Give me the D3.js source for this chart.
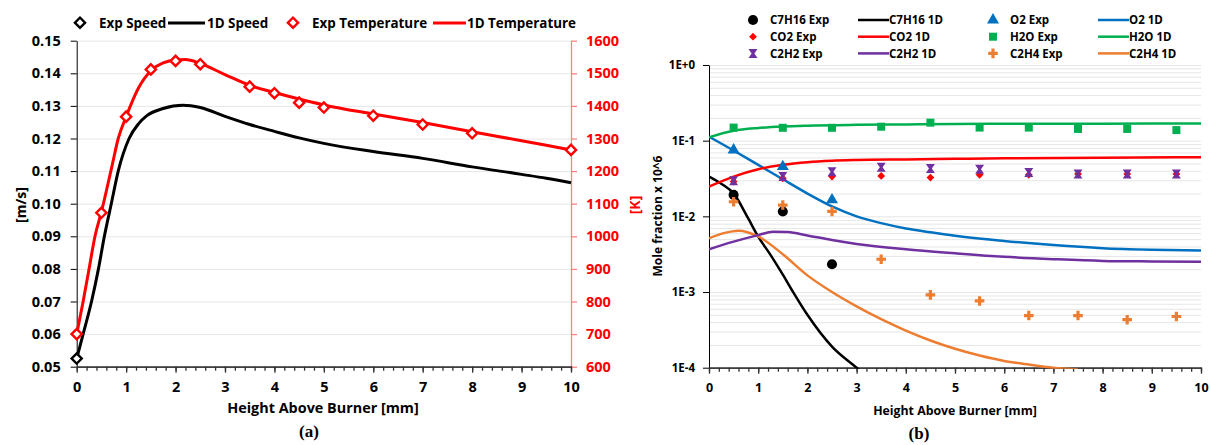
<!DOCTYPE html>
<html lang="en">
<head>
  <meta charset="UTF-8">
  <title>Speed, temperature and mole fractions</title>
  <script src="https://d3js.org/d3.v7.min.js"></script>
  <style>
    body { margin: 0; background: #fff; }
    svg text { font-family: "Open Sans", Lato, sans-serif; font-weight: bold; }
    .grid line { stroke: #e6e6e6; }
    .grid .domain { stroke: none; }
  </style>
</head>
<body>
<svg id="chart" width="1210" height="445"></svg>
<script>
  // ---- (a) speed / temperature ----
  const speedExpX = [0];
  const speedExp  = [0.0525];
  const speed1dX = [0, 0.13, 0.3, 0.44, 0.56, 0.7, 0.84, 1.06, 1.25, 1.42, 1.75, 2.15, 2.5, 3, 3.5, 4, 4.5, 5, 6, 7, 8, 9, 9.5, 10];
  const speed1d  = [0.0525, 0.06, 0.07, 0.08, 0.09, 0.1, 0.11, 0.12, 0.1245, 0.127, 0.1292, 0.1302, 0.1295, 0.1268, 0.1243, 0.1222, 0.1202, 0.1185, 0.116, 0.1139, 0.1113, 0.109, 0.1078, 0.1064];
  const tempExpX = [0, 0.5, 1, 1.5, 2, 2.5, 3.5, 4, 4.5, 5, 6, 7, 8, 10];
  const tempExp  = [700, 1072, 1367, 1512, 1538, 1528, 1459, 1439, 1410, 1395, 1370, 1343, 1316, 1265];
  const temp1dX = [0, 0.13, 0.25, 0.37, 0.5, 0.71, 0.84, 1, 1.25, 1.5, 1.75, 2, 2.2, 2.5, 3, 3.5, 4, 4.5, 5, 6, 7, 8, 9, 10];
  const temp1d  = [700, 800, 900, 1000, 1075, 1213, 1300, 1367, 1455, 1508, 1532, 1541, 1542, 1530, 1496, 1463, 1441, 1421, 1403, 1375, 1349, 1321, 1293, 1265];
  const speedTicks = [0.05, 0.06, 0.07, 0.08, 0.09, 0.10, 0.11, 0.12, 0.13, 0.14, 0.15];
  const tempTicks = [600, 700, 800, 900, 1000, 1100, 1200, 1300, 1400, 1500, 1600];
  const xTicks = [0, 1, 2, 3, 4, 5, 6, 7, 8, 9, 10];

  // ---- (b) mole fractions ----
  const expX = [0.5, 1.5, 2.5, 3.5, 4.5, 5.5, 6.5, 7.5, 8.5, 9.5];
  const c7h16Exp = [0.0192, 0.0116, 0.00233];
  const o2Exp    = [0.0753, 0.0454, 0.0165];
  const co2Exp   = [0.0288, 0.0318, 0.0335, 0.0342, 0.0325, 0.0354, 0.0354, 0.0363, 0.0363, 0.0363];
  const h2oExp   = [0.149, 0.148, 0.148, 0.153, 0.173, 0.149, 0.149, 0.143, 0.143, 0.138];
  const c2h2Exp  = [0.0295, 0.0335, 0.0388, 0.0444, 0.043, 0.0418, 0.038, 0.0363, 0.0363, 0.0363];
  const c2h4Exp  = [0.0156, 0.0141, 0.0116, 0.00271, 0.000916, 0.000762, 0.000489, 0.000489, 0.000431, 0.000475];

  const c7h16X = [0, 0.25, 0.5, 0.8, 1, 1.25, 1.5, 1.71, 2, 2.5, 3, 3.2];
  const c7h16  = [0.0335, 0.027, 0.0201, 0.0093, 0.0054, 0.0031, 0.0017, 0.001, 0.0005, 0.00019, 0.0001, 0.000078];
  const o2X = [0, 0.5, 1, 1.5, 2, 2.5, 3, 3.5, 4, 4.5, 5, 6, 7, 8, 9, 10];
  const o2  = [0.113, 0.0741, 0.0479, 0.0309, 0.02, 0.0135, 0.01, 0.00813, 0.00692, 0.00617, 0.00556, 0.00473, 0.00417, 0.0038, 0.00363, 0.00355];
  const co2X = [0, 0.5, 1, 1.5, 2, 2.5, 3, 4, 5, 6, 8, 10];
  const co2  = [0.0247, 0.0335, 0.042, 0.048, 0.052, 0.0543, 0.0555, 0.0565, 0.0575, 0.0585, 0.0597, 0.0604];
  const h2oX = [0, 0.5, 1, 1.5, 2, 3, 4, 5, 6, 8, 10];
  const h2o  = [0.111, 0.135, 0.147, 0.154, 0.158, 0.162, 0.164, 0.166, 0.167, 0.168, 0.169];
  const c2h2X = [0, 0.5, 1, 1.3, 1.6, 2, 2.5, 3, 4, 5, 6, 7, 8, 9, 10];
  const c2h2  = [0.00367, 0.00463, 0.00565, 0.00628, 0.0062, 0.0056, 0.00487, 0.00432, 0.00367, 0.00325, 0.00292, 0.00272, 0.00258, 0.00254, 0.00252];
  const c2h4X = [0, 0.3, 0.6, 1, 1.5, 2, 2.5, 3, 3.5, 4, 4.5, 5, 5.5, 6, 6.5, 7, 7.5];
  const c2h4  = [0.00513, 0.006, 0.00647, 0.00542, 0.00316, 0.00166, 0.001, 0.000646, 0.000437, 0.000309, 0.000229, 0.000178, 0.000145, 0.000123, 0.00011, 0.0001, 0.000095];
  const logTicks = [1, 0.1, 0.01, 0.001, 0.0001];
  const logTickLabels = ["1E+0", "1E-1", "1E-2", "1E-3", "1E-4"];

  const svg = d3.select("#chart");
  const zip = (xs, ys) => xs.map((x, i) => [x, ys[i]]);
  const fsA = "14px", fsLeg = "13.4px", fsB = "11.5px";

  // ================= panel (a) =================
  const xL = d3.scaleLinear().domain([0, 10]).range([76.7, 571]);
  const yS = d3.scaleLinear().domain([0.05, 0.15]).range([366.7, 40.7]);
  const yT = d3.scaleLinear().domain([600, 1600]).range([366.7, 40.7]);
  const gA = svg.append("g");

  gA.append("g").attr("class", "grid")
    .attr("transform", `translate(${xL(0)},0)`)
    .call(d3.axisLeft(yS).tickValues(speedTicks.slice(1)).tickFormat("").tickSize(-(xL(10) - xL(0))));

  const leftAx = gA.append("g").attr("transform", `translate(${xL(0)},0)`)
    .call(d3.axisLeft(yS).tickValues(speedTicks).tickFormat(d3.format(".2f")).tickSize(6).tickSizeOuter(0).tickPadding(10));
  leftAx.selectAll("text").style("font-size", "14.5px").attr("fill", "#000");
  leftAx.selectAll("line, path").attr("stroke", "#000");

  const rightAx = gA.append("g").attr("transform", `translate(${xL(10)},0)`)
    .call(d3.axisRight(yT).tickValues(tempTicks).tickFormat(d3.format("d")).tickSize(6).tickSizeOuter(0).tickPadding(9));
  rightAx.selectAll("text").style("font-size", "14.5px").attr("fill", "#ff0000");
  rightAx.selectAll("line, path").attr("stroke", "#ff8080").attr("stroke-width", 1.3);

  const botA = gA.append("g").attr("transform", `translate(0,${yS(0.05)})`);
  botA.call(d3.axisBottom(xL).tickValues(d3.range(0, 10.01, 0.2)).tickFormat("").tickSize(4).tickSizeOuter(0));
  botA.append("g").call(d3.axisBottom(xL).tickValues(xTicks).tickSize(6).tickSizeOuter(0).tickPadding(9))
    .selectAll("text").style("font-size", "14.5px").attr("fill", "#000");
  botA.selectAll("line, path").attr("stroke", "#333").attr("stroke-width", 1.3);

  const lineA = (ys) => d3.line().x(d => xL(d[0])).y(d => ys(d[1])).curve(d3.curveMonotoneX);
  gA.append("path").datum(zip(speed1dX, speed1d)).attr("d", lineA(yS))
    .attr("fill", "none").attr("stroke", "#000").attr("stroke-width", 3);
  gA.append("path").datum(zip(temp1dX, temp1d)).attr("d", lineA(yT))
    .attr("fill", "none").attr("stroke", "#ff0000").attr("stroke-width", 3);

  const diamond = d3.symbol().type(d3.symbolSquare).size(52)();
  gA.selectAll(".tExp").data(zip(tempExpX, tempExp)).join("path")
    .attr("d", diamond)
    .attr("transform", d => `translate(${xL(d[0])},${yT(d[1])}) rotate(45)`)
    .attr("fill", "#fff").attr("stroke", "#ff0000").attr("stroke-width", 2.4);
  gA.selectAll(".sExp").data(zip(speedExpX, speedExp)).join("path")
    .attr("d", diamond)
    .attr("transform", d => `translate(${xL(d[0])},${yS(d[1])}) rotate(45)`)
    .attr("fill", "#fff").attr("stroke", "#000").attr("stroke-width", 2.4);

  gA.append("text").attr("transform", "translate(26,205) rotate(-90)")
    .attr("text-anchor", "middle").style("font-size", fsA).text("[m/s]");
  gA.append("text").attr("transform", "translate(640,205) rotate(-90)")
    .attr("text-anchor", "middle").style("font-size", fsA).attr("fill", "#ff0000").text("[K]");
  gA.append("text").attr("x", 323).attr("y", 413).attr("text-anchor", "middle")
    .style("font-size", "14.4px").text("Height Above Burner [mm]");
  gA.append("text").attr("x", 309).attr("y", 437).attr("text-anchor", "middle")
    .style("font-family", "'Liberation Serif', serif").style("font-size", "17px").text("(a)");

  // legend (a)
  const legA = gA.append("g");
  legA.append("path").attr("d", diamond).attr("transform", "translate(80,22.7) rotate(45)")
    .attr("fill", "#fff").attr("stroke", "#000").attr("stroke-width", 2.4);
  legA.append("text").attr("x", 99).attr("y", 28).style("font-size", fsLeg).text("Exp Speed");
  legA.append("line").attr("x1", 168).attr("x2", 205).attr("y1", 23).attr("y2", 23)
    .attr("stroke", "#000").attr("stroke-width", 3);
  legA.append("text").attr("x", 207).attr("y", 28).style("font-size", fsLeg).text("1D Speed");
  legA.append("path").attr("d", diamond).attr("transform", "translate(293,22.7) rotate(45)")
    .attr("fill", "#fff").attr("stroke", "#ff0000").attr("stroke-width", 2.4);
  legA.append("text").attr("x", 312).attr("y", 28).style("font-size", fsLeg).text("Exp Temperature");
  legA.append("line").attr("x1", 433).attr("x2", 466).attr("y1", 23).attr("y2", 23)
    .attr("stroke", "#ff0000").attr("stroke-width", 3);
  legA.append("text").attr("x", 467).attr("y", 28).style("font-size", fsLeg).text("1D Temperature");

  // ================= panel (b) =================
  const xR = d3.scaleLinear().domain([0, 10]).range([709, 1201]);
  const yR = d3.scaleLog().domain([1e-4, 1]).range([367.7, 65]);
  const gB = svg.append("g");

  const minor = [];
  [1e-4, 1e-3, 1e-2, 1e-1].forEach(dec => d3.range(2, 10).forEach(m => minor.push(dec * m)));
  gB.append("g").attr("class", "grid")
    .attr("transform", `translate(${xR(0)},0)`)
    .call(d3.axisLeft(yR).tickValues(minor.concat(logTicks.slice(0, 4))).tickFormat("").tickSize(-(xR(10) - xR(0))));

  const leftB = gB.append("g").attr("transform", `translate(${xR(0)},0)`)
    .call(d3.axisLeft(yR).tickValues(logTicks).tickFormat((d, i) => logTickLabels[i]).tickSize(6).tickSizeOuter(0).tickPadding(8));
  leftB.selectAll("text").style("font-size", fsB).attr("fill", "#000");
  leftB.selectAll("line, path").attr("stroke", "#000");

  const botB = gB.append("g").attr("transform", `translate(0,${yR(1e-4)})`);
  botB.call(d3.axisBottom(xR).tickValues(d3.range(0, 10.01, 0.2)).tickFormat("").tickSize(4).tickSizeOuter(0));
  botB.append("g").call(d3.axisBottom(xR).tickValues(xTicks).tickSize(6).tickSizeOuter(0).tickPadding(9))
    .selectAll("text").style("font-size", "12.5px").attr("fill", "#000");
  botB.selectAll("line, path").attr("stroke", "#333").attr("stroke-width", 1.3);

  svg.append("defs").append("clipPath").attr("id", "clipB")
    .append("rect").attr("x", xR(0)).attr("y", yR(1)).attr("width", xR(10) - xR(0)).attr("height", yR(1e-4) - yR(1) + 1);

  const species = [
    { name: "C7H16", color: "#000000", lx: c7h16X, ly: c7h16, ex: expX.slice(0, 3), ey: c7h16Exp, mark: "circle" },
    { name: "O2",    color: "#0070C0", lx: o2X,    ly: o2,    ex: expX.slice(0, 3), ey: o2Exp,    mark: "triangle" },
    { name: "CO2",   color: "#FF0000", lx: co2X,   ly: co2,   ex: expX, ey: co2Exp,  mark: "diamond" },
    { name: "H2O",   color: "#00B050", lx: h2oX,   ly: h2o,   ex: expX, ey: h2oExp,  mark: "square" },
    { name: "C2H2",  color: "#7030A0", lx: c2h2X,  ly: c2h2,  ex: expX, ey: c2h2Exp, mark: "xbar" },
    { name: "C2H4",  color: "#ED7D31", lx: c2h4X,  ly: c2h4,  ex: expX, ey: c2h4Exp, mark: "plus" }
  ];
  const markPath = {
    circle: d3.symbol().type(d3.symbolCircle).size(80)(),
    triangle: d3.symbol().type(d3.symbolTriangle).size(62)(),
    diamond: d3.symbol().type(d3.symbolSquare).size(30)(),
    square: d3.symbol().type(d3.symbolSquare).size(64)(),
    xbar: "M-4.5,-4.5H4.5L1.4,0L4.5,4.5H-4.5L-1.4,0Z",
    plus: "M-1.6,-4.8H1.6V-1.6H4.8V1.6H1.6V4.8H-1.6V1.6H-4.8V-1.6H-1.6Z"
  };
  const markRot = m => m === "diamond" ? " rotate(45)" : "";

  const lineB = d3.line().x(d => xR(d[0])).y(d => yR(d[1])).curve(d3.curveMonotoneX);
  const linesB = gB.append("g").attr("clip-path", "url(#clipB)");
  ["C7H16", "C2H4", "C2H2", "O2", "CO2", "H2O"].forEach(n => {
    const s = species.find(d => d.name === n);
    linesB.append("path").datum(zip(s.lx, s.ly)).attr("d", lineB)
      .attr("fill", "none").attr("stroke", s.color).attr("stroke-width", 2.5);
  });
  ["CO2", "C2H2", "C7H16", "O2", "H2O", "C2H4"].forEach(n => {
    const s = species.find(d => d.name === n);
    gB.append("g").selectAll("path").data(zip(s.ex, s.ey)).join("path")
      .attr("d", markPath[s.mark])
      .attr("transform", d => `translate(${xR(d[0])},${yR(d[1])})` + markRot(s.mark))
      .attr("fill", s.color);
  });

  gB.append("text").attr("transform", "translate(662,216) rotate(-90)")
    .attr("text-anchor", "middle").style("font-size", "12px").text("Mole fraction x 10^6");
  gB.append("text").attr("x", 955).attr("y", 415).attr("text-anchor", "middle")
    .style("font-size", "12.3px").text("Height Above Burner [mm]");
  gB.append("text").attr("x", 919).attr("y", 439).attr("text-anchor", "middle")
    .style("font-family", "'Liberation Serif', serif").style("font-size", "17px").text("(b)");

  // legend (b): 3 rows x 2 species per row
  const legOrder = [["C7H16", "O2"], ["CO2", "H2O"], ["C2H2", "C2H4"]];
  const legB = gB.append("g");
  legOrder.forEach((row, r) => {
    const cy = 20 + r * 16.7;
    row.forEach((n, c) => {
      const s = species.find(d => d.name === n);
      const ox = c * 240;
      legB.append("path").attr("d", markPath[s.mark])
        .attr("transform", `translate(${753 + ox},${cy})` + markRot(s.mark)).attr("fill", s.color);
      legB.append("text").attr("x", 770 + ox).attr("y", cy + 4.2).style("font-size", fsB).text(n + " Exp");
      legB.append("line").attr("x1", 858 + ox).attr("x2", 889 + ox).attr("y1", cy).attr("y2", cy)
        .attr("stroke", s.color).attr("stroke-width", 2.5);
      legB.append("text").attr("x", 889 + ox).attr("y", cy + 4.2).style("font-size", fsB).text(n + " 1D");
    });
  });
</script>
</body>
</html>
